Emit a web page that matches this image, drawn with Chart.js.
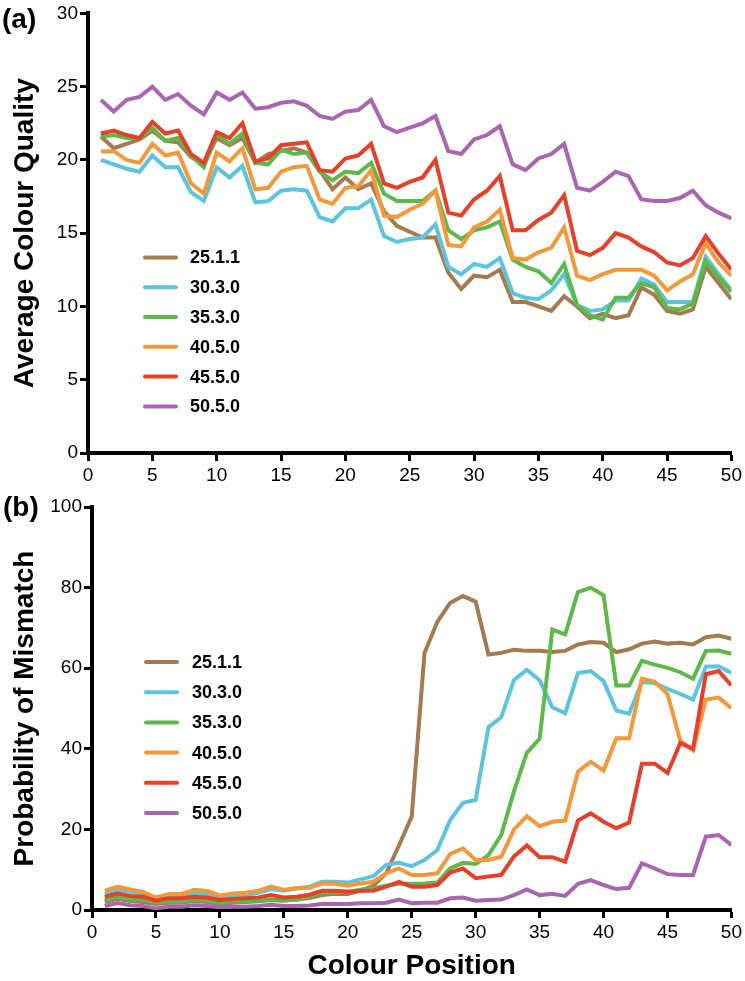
<!DOCTYPE html>
<html>
<head>
<meta charset="utf-8">
<script src="https://cdn.jsdelivr.net/npm/chart.js@4/dist/chart.umd.min.js"></script>
<style>
  html, body { margin: 0; padding: 0; background: #fff; }
  body { width: 745px; height: 981px; position: relative; overflow: hidden; font-family: 'Liberation Sans', Arial, sans-serif; }
  .panel { position: absolute; left: 0; width: 745px; }
  #pa { top: 0; height: 490px; }
  #pb { top: 490px; height: 491px; }
  .lab { position: absolute; font-weight: bold; font-size: 28px; color: #000; line-height: 1; }
</style>
</head>
<body>
<div class="panel" id="pa"><canvas id="ca"></canvas></div>
<div class="panel" id="pb"><canvas id="cb"></canvas></div>
<div class="lab" style="left:2px; top:5px;">(a)</div>
<div class="lab" style="left:3px; top:493px;">(b)</div>
<script>
// ---------------- data ----------------
const positions = [1,2,3,4,5,6,7,8,9,10,11,12,13,14,15,16,17,18,19,20,21,22,23,24,25,26,27,28,29,30,31,32,33,34,35,36,37,38,39,40,41,42,43,44,45,46,47,48,49,50];
const seriesNames = ['25.1.1', '30.3.0', '35.3.0', '40.5.0', '45.5.0', '50.5.0'];
const xTicks = [0,5,10,15,20,25,30,35,40,45,50];
const yTicksA = [0,5,10,15,20,25,30];
const yTicksB = [0,20,40,60,80,100];

// (a) Average Colour Quality
const quality_25_1_1 = [21.6,20.8,21.1,21.4,22.0,21.3,21.2,20.2,19.7,21.5,21.0,21.5,19.8,20.4,20.6,20.8,20.5,19.3,18.0,18.8,18.0,18.4,16.5,15.5,15.1,14.7,14.7,12.3,11.2,12.1,12.0,12.5,10.3,10.3,10.0,9.7,10.7,10.0,9.2,9.5,9.2,9.4,11.3,10.8,9.7,9.5,9.8,12.7,11.6,10.5];
const quality_30_3_0 = [20.0,19.7,19.4,19.2,20.3,19.5,19.5,17.8,17.2,19.5,18.8,19.6,17.1,17.2,17.9,18.0,17.9,16.1,15.8,16.7,16.7,17.3,14.8,14.4,14.6,14.7,15.6,12.7,12.2,12.9,12.7,13.3,10.9,10.6,10.5,11.1,12.2,10.1,9.7,9.8,10.4,10.4,11.9,11.5,10.3,10.3,10.3,13.4,12.2,11.1];
const quality_35_3_0 = [21.6,21.7,21.5,21.5,22.2,21.3,21.5,20.3,19.5,21.8,21.1,21.8,19.8,19.7,20.7,20.4,20.5,19.2,18.6,19.2,19.1,19.8,17.7,17.2,17.2,17.2,17.9,15.2,14.6,15.2,15.4,15.8,13.2,12.7,12.4,11.6,12.9,10.1,9.4,9.1,10.6,10.6,11.6,11.3,9.9,9.8,10.2,13.1,12.0,11.0];
const quality_40_5_0 = [20.6,20.6,20.0,19.8,21.1,20.3,20.5,18.4,17.7,20.5,19.9,20.8,18.0,18.1,19.2,19.5,19.6,17.3,17.0,18.1,18.2,19.3,16.2,16.1,16.6,17.0,17.9,14.2,14.1,15.4,15.8,16.6,13.3,13.2,13.7,14.0,15.4,12.1,11.8,12.2,12.5,12.5,12.5,12.1,11.1,11.7,12.2,14.3,13.0,12.1];
const quality_45_5_0 = [21.8,22.0,21.7,21.5,22.6,21.8,22.0,20.4,19.8,21.9,21.5,22.5,19.9,20.1,21.0,21.1,21.2,19.3,19.2,20.1,20.3,21.1,18.4,18.1,18.5,18.8,20.0,16.4,16.2,17.3,17.9,18.9,15.2,15.2,15.9,16.4,17.6,13.8,13.5,14.0,15.0,14.7,14.1,13.7,13.0,12.8,13.3,14.8,13.6,12.5];
const quality_50_5_0 = [24.1,23.3,24.1,24.3,25.0,24.1,24.5,23.7,23.1,24.6,24.1,24.6,23.5,23.6,23.9,24.0,23.7,23.0,22.8,23.3,23.4,24.1,22.3,21.9,22.2,22.5,23.0,20.6,20.4,21.4,21.7,22.3,19.7,19.3,20.1,20.4,21.1,18.1,17.9,18.5,19.2,18.9,17.3,17.2,17.2,17.4,17.9,16.9,16.4,16.0];

// (b) Probability of Mismatch
const mismatch_25_1_1 = [2.0,2.8,2.2,2.0,1.5,1.8,1.8,2.2,2.0,1.5,1.8,2.0,2.2,2.5,2.3,2.6,3.0,3.7,4.0,4.0,4.8,6.0,9.1,16.0,23.2,63.8,71.5,76.2,77.9,76.5,63.4,63.8,64.6,64.3,64.3,64.0,64.3,65.9,66.5,66.3,64.0,64.7,66.1,66.6,66.1,66.3,65.9,67.7,68.1,67.3];
const mismatch_30_3_0 = [4.0,5.0,4.5,4.0,2.8,3.5,3.5,4.2,4.0,3.2,3.6,3.8,4.3,5.2,4.8,5.4,5.8,7.0,7.0,6.8,7.6,8.4,11.2,11.7,10.9,12.4,14.9,22.3,26.6,27.3,45.4,47.8,57.1,59.6,57.0,50.3,48.8,58.8,59.3,56.8,49.5,48.7,56.6,56.3,54.9,53.6,52.2,60.4,60.5,58.8];
const mismatch_35_3_0 = [2.5,3.3,2.6,2.5,1.8,2.1,2.1,2.5,2.3,1.8,2.1,2.2,2.3,2.6,2.5,2.6,3.3,4.3,4.5,4.5,5.0,5.4,6.0,6.5,6.5,6.6,6.8,10.3,11.7,11.4,13.6,18.6,29.5,39.0,42.5,69.6,68.4,78.9,80.0,78.1,55.7,55.7,61.8,60.9,60.1,59.0,57.4,64.3,64.4,63.6];
const mismatch_40_5_0 = [4.8,5.8,5.1,4.5,3.1,4.0,4.0,5.0,4.7,3.6,4.1,4.3,4.8,5.8,5.0,5.4,5.5,6.5,6.5,6.0,6.6,7.0,9.1,10.3,8.7,8.7,9.1,13.9,15.3,12.4,12.4,13.2,20.0,23.3,20.8,21.9,22.2,34.3,36.8,34.6,42.6,42.6,57.4,56.6,53.6,42.0,39.6,52.2,52.7,50.1];
const mismatch_45_5_0 = [3.3,4.1,3.5,3.3,2.3,2.9,2.9,3.3,3.1,2.5,2.7,2.9,3.1,3.7,3.1,3.3,3.8,4.8,4.8,4.5,4.8,4.8,5.8,7.0,5.8,5.8,6.2,9.3,10.3,7.9,8.3,8.7,13.3,16.0,13.1,13.1,12.0,22.2,24.0,21.9,20.3,21.7,36.3,36.3,34.0,41.4,40.0,58.5,59.3,55.7];
const mismatch_50_5_0 = [1.0,1.7,1.2,1.0,0.4,0.8,0.8,1.2,1.0,0.7,0.8,0.8,1.0,1.3,1.0,1.0,1.1,1.5,1.5,1.5,1.7,1.7,1.8,2.6,1.7,1.8,1.8,2.9,3.1,2.3,2.5,2.6,3.7,5.1,3.7,4.0,3.5,6.5,7.4,6.2,5.2,5.5,11.6,10.3,8.9,8.7,8.7,18.2,18.6,16.1];

// ---------------- styling ----------------
const colors = ['#A57A51', '#5CC5DD', '#5DB949', '#F3993B', '#E6402B', '#A966B0'];
const FONT = "'Liberation Sans', Arial, Helvetica, sans-serif";

function buildDatasets(seriesList) {
  return seriesList.map((vals, i) => ({
    label: seriesNames[i],
    data: positions.map((p, j) => ({ x: p, y: vals[j] })),
    borderColor: colors[i],
    backgroundColor: colors[i],
    borderWidth: 4,
    pointRadius: 0,
    tension: 0,
    fill: false,
    order: seriesList.length - i
  }));
}

// custom legend (drawn on canvas as text), positioned relative to chart area
const boxLegend = {
  id: 'boxLegend',
  afterDraw(chart, args, opts) {
    const ctx = chart.ctx;
    const ca = chart.chartArea;
    ctx.save();
    ctx.font = "bold 18px " + FONT;
    ctx.textBaseline = 'middle';
    ctx.textAlign = 'left';
    chart.data.datasets.forEach((ds, i) => {
      const y = ca.top + opts.top + i * opts.step;
      ctx.strokeStyle = ds.borderColor;
      ctx.lineWidth = 4;
      ctx.lineCap = 'round';
      ctx.beginPath();
      ctx.moveTo(ca.left + opts.lineStart, y);
      ctx.lineTo(ca.left + opts.lineStart + 31, y);
      ctx.stroke();
      ctx.fillStyle = '#000';
      ctx.fillText(ds.label, ca.left + opts.textStart, y + 1);
    });
    ctx.restore();
  }
};

function makeChart(canvasId, seriesList, cfg) {
  return new Chart(document.getElementById(canvasId), {
    type: 'line',
    data: { datasets: buildDatasets(seriesList) },
    plugins: [boxLegend],
    options: {
      responsive: true,
      maintainAspectRatio: false,
      animation: false,
      devicePixelRatio: 1,
      layout: { padding: cfg.padding },
      plugins: {
        legend: { display: false },
        tooltip: { enabled: false },
        boxLegend: cfg.legend
      },
      scales: {
        x: {
          type: 'linear',
          min: 0, max: 50,
          afterBuildTicks: (s) => { s.ticks = xTicks.map(v => ({ value: v })); },
          afterFit: (s) => { s.height = cfg.xHeight; },
          ticks: { font: { family: FONT, size: 19 }, color: '#000', padding: 3, maxRotation: 0, autoSkip: false },
          grid: { display: true, drawOnChartArea: false, drawTicks: true, tickLength: 8, tickWidth: 3, tickColor: '#000' },
          border: { display: true, color: '#000', width: 4 },
          title: cfg.xTitle ? {
            display: true, text: cfg.xTitle, color: '#000',
            font: { family: FONT, size: 28, weight: 'bold' },
            padding: { top: 0, bottom: -2 }
          } : { display: false }
        },
        y: {
          type: 'linear',
          min: cfg.yTicks[0], max: cfg.yTicks[cfg.yTicks.length - 1],
          afterBuildTicks: (s) => { s.ticks = cfg.yTicks.map(v => ({ value: v })); },
          afterFit: (s) => { s.width = cfg.yWidth; },
          ticks: { font: { family: FONT, size: 19 }, color: '#000', padding: 2 },
          grid: { display: true, drawOnChartArea: false, drawTicks: true, tickLength: 8, tickWidth: 3, tickColor: '#000' },
          border: { display: true, color: '#000', width: 4 },
          title: {
            display: true, text: cfg.yTitle, color: '#000',
            font: { family: FONT, size: 28, weight: 'bold' },
            padding: { top: 8, bottom: 0 }
          }
        }
      }
    }
  });
}

makeChart('ca',
  [quality_25_1_1, quality_30_3_0, quality_35_3_0, quality_40_5_0, quality_45_5_0, quality_50_5_0],
  {
    padding: { left: 0, top: 13, right: 11, bottom: 0 },
    yWidth: 88, xHeight: 37,
    yTicks: yTicksA,
    yTitle: 'Average Colour Quality',
    legend: { top: 244, step: 29.8, lineStart: 57, textStart: 102 }
  });

makeChart('cb',
  [mismatch_25_1_1, mismatch_30_3_0, mismatch_35_3_0, mismatch_40_5_0, mismatch_45_5_0, mismatch_50_5_0],
  {
    padding: { left: 0, top: 17, right: 13, bottom: 0 },
    yWidth: 92, xHeight: 71,
    yTicks: yTicksB,
    yTitle: 'Probability of Mismatch',
    xTitle: 'Colour Position',
    legend: { top: 155, step: 30.2, lineStart: 54, textStart: 100 }
  });
</script>
</body>
</html>
